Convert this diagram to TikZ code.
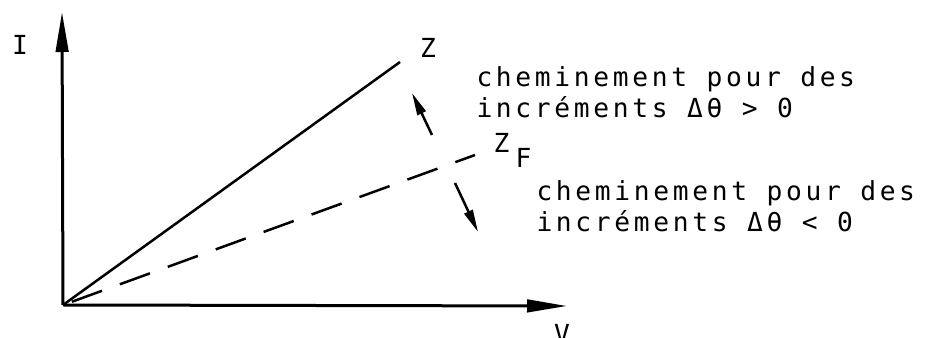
\documentclass[tikz,border=0pt]{standalone}
\usepackage{fontspec}
\setmonofont{DejaVu Sans Mono}[LetterSpace=14]
\usetikzlibrary{arrows.meta}

\tikzset{
  axis/.style={line width=1.2pt, -{Triangle[length=16pt,width=5pt]}},
  locus/.style={line width=1pt},
  drift/.style={line width=1pt, -{Triangle[length=9pt,width=3.6pt]}},
  lbl/.style={font=\ttfamily\fontsize{10.5}{12.4}\selectfont, inner sep=0pt},
}

\begin{document}
\begin{tikzpicture}[x=0.4pt, y=-0.4pt]
  \useasboundingbox (0,0) rectangle (932,338);
  % axes
  \coordinate (O) at (63,305);
  \coordinate (Itop) at (62,12);
  \coordinate (Vend) at (567,306);
  \draw[axis] (O) -- (Itop);
  \draw[axis] (O) -- (Vend);
  \node[lbl] (I) at (20,45) {I};
  \node[lbl, anchor=north] (V) at (562,324) {V};
  % the two loci
  \coordinate (Z) at (400,62);
  \coordinate (Zf) at (475,155);
  \draw[locus] (O) -- (Z);
  \draw[locus, dash pattern=on 12.8pt off 7.6pt, dash phase=16.6pt] (O) -- (Zf);
  \node[lbl] (zlab) at (428,48) {Z};
  \node[lbl, anchor=base west] (zflab) at (493,153) {Z\hspace{2.5pt}\raisebox{-6pt}{F}};
  % direction of the increments
  \coordinate (upTail) at (432,135);
  \coordinate (upHead) at (412,93);
  \coordinate (dnTail) at (455,183);
  \coordinate (dnHead) at (478,232);
  \draw[drift] (upTail) -- (upHead);
  \draw[drift] (dnTail) -- (dnHead);
  \node[lbl, anchor=base west, align=left] (pos) at (476,118)
    {cheminement pour des\\incréments Δθ > 0};
  \node[lbl, anchor=base west, align=left] (neg) at (536,232)
    {cheminement pour des\\incréments Δθ < 0};
\end{tikzpicture}
\end{document}
